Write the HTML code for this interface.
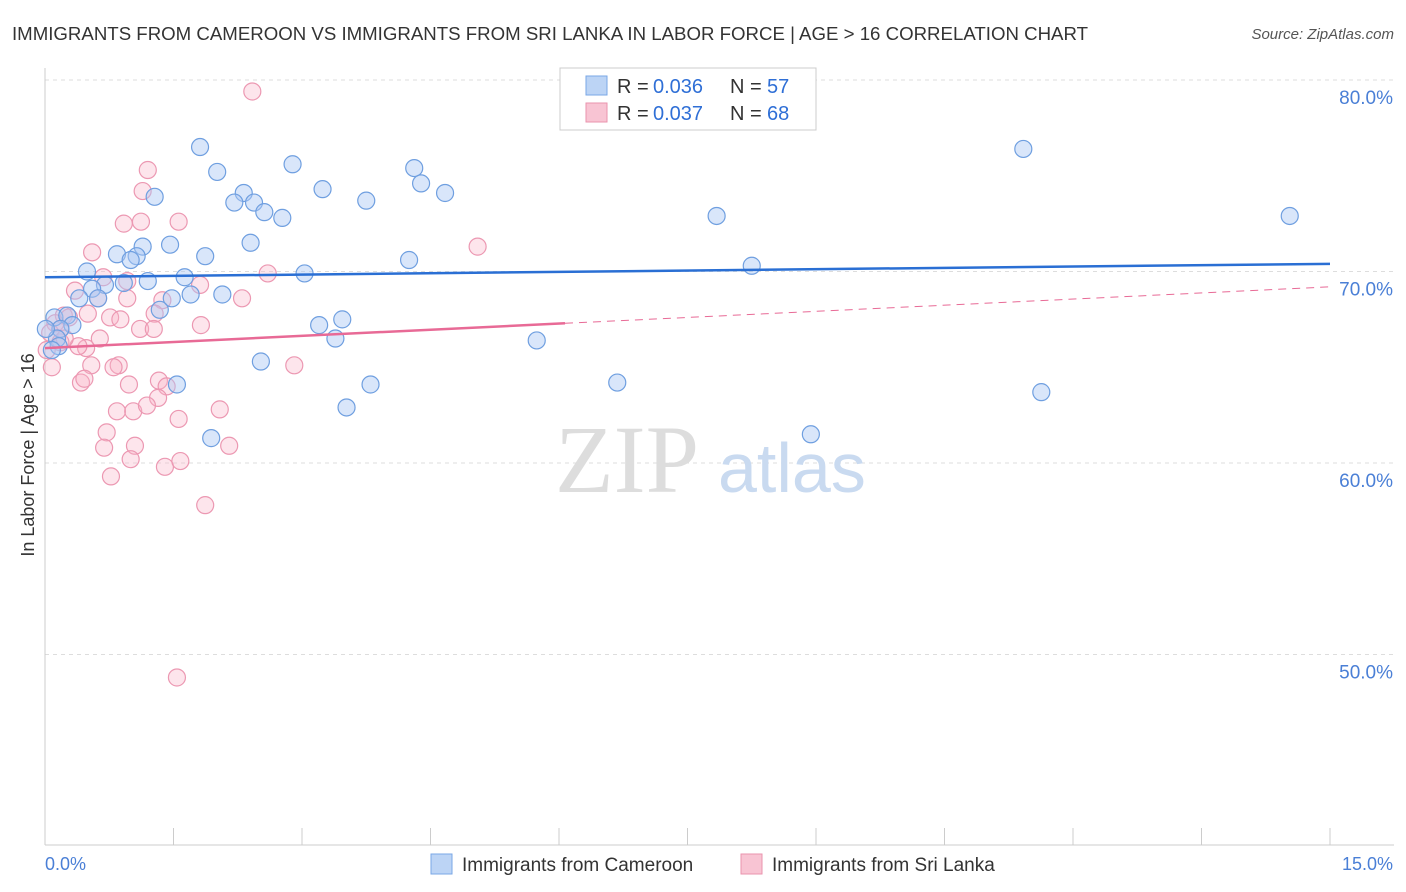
<!DOCTYPE html>
<html><head><meta charset="utf-8"><style>
body{margin:0;background:#fff;font-family:"Liberation Sans",sans-serif;}
svg{display:block}
</style></head><body>
<svg id="chart" width="1406" height="892">
<text x="12" y="40" font-size="18" fill="#333" textLength="1076" lengthAdjust="spacingAndGlyphs">IMMIGRANTS FROM CAMEROON VS IMMIGRANTS FROM SRI LANKA IN LABOR FORCE | AGE &gt; 16 CORRELATION CHART</text>
<text x="1394" y="39" font-size="15" fill="#555" text-anchor="end" font-style="italic">Source: ZipAtlas.com</text>
<g id="grid"></g>
<text x="555" y="492" font-size="96" fill="#ddd" font-family="Liberation Serif,serif">ZIP</text>
<text x="718" y="492" font-size="70" fill="#c9daf0">atlas</text>
<text transform="translate(34,455) rotate(-90)" font-size="18" fill="#333" text-anchor="middle">In Labor Force | Age &gt; 16</text>
<g id="marks"></g>
<g>
<rect x="560" y="68" width="256" height="62" fill="#fff" stroke="#ccc"/>
<rect x="586" y="76" width="21" height="19" fill="#bcd4f5" stroke="#7aa7e6"/>
<rect x="586" y="103" width="21" height="19" fill="#f8c4d3" stroke="#ea93ae"/>
<text x="617" y="93" font-size="20" fill="#333">R = </text><text x="653" y="93" font-size="20" fill="#2f6fd6">0.036</text>
<text x="730" y="93" font-size="20" fill="#333">N = </text><text x="767" y="93" font-size="20" fill="#2f6fd6">57</text>
<text x="617" y="120" font-size="20" fill="#333">R = </text><text x="653" y="120" font-size="20" fill="#2f6fd6">0.037</text>
<text x="730" y="120" font-size="20" fill="#333">N = </text><text x="767" y="120" font-size="20" fill="#2f6fd6">68</text>
</g>
<g>
<rect x="431" y="854" width="21" height="20" fill="#bcd4f5" stroke="#7aa7e6"/>
<text x="462" y="871" font-size="19" fill="#333">Immigrants from Cameroon</text>
<rect x="741" y="854" width="21" height="20" fill="#f8c4d3" stroke="#ea93ae"/>
<text x="772" y="871" font-size="19" fill="#333">Immigrants from Sri Lanka</text>
</g>
</svg>
<script>
const yTicks=[50,60,70,80];
const xTickCount=10;
const blueTrend=[69.7,70.4];
const pinkTrend=[66.0,69.2];
const pinkSolidEnd=6.07;
const blueX=[1.81,2.01,1.28,2.32,2.21,2.44,2.56,2.77,2.89,3.24,3.75,4.31,4.39,4.67,1.46,1.14,0.84,1.07,1.00,1.87,2.40,0.49,1.63,1.20,0.92,0.70,0.55,0.62,0.40,1.48,1.70,2.07,3.03,1.34,0.11,0.26,0.32,0.18,0.14,0.16,3.20,3.47,3.39,2.52,1.54,3.80,3.52,1.94,4.25,5.74,6.68,7.84,8.25,8.94,11.42,11.63,14.53,0.08,0.01];
const blueY=[76.5,75.2,73.9,74.1,73.6,73.6,73.1,72.8,75.6,74.3,73.7,75.4,74.6,74.1,71.4,71.3,70.9,70.8,70.6,70.8,71.5,70.0,69.7,69.5,69.4,69.3,69.1,68.6,68.6,68.6,68.8,68.8,69.9,68.0,67.6,67.7,67.2,67.0,66.5,66.1,67.2,67.5,66.5,65.3,64.1,64.1,62.9,61.3,70.6,66.4,64.2,72.9,70.3,61.5,76.4,63.7,72.9,65.9,67.0];
const pinkX=[2.42,1.20,1.14,1.56,0.92,1.12,0.55,5.05,2.60,0.68,0.96,1.81,0.35,0.62,0.96,1.37,2.30,0.22,0.50,0.76,0.88,1.28,0.28,0.12,0.06,0.18,0.48,0.64,1.11,1.27,1.82,0.39,0.54,0.86,0.80,2.91,0.08,0.42,0.46,0.98,1.33,1.42,1.32,0.84,1.03,1.19,2.04,1.56,0.72,0.69,1.05,1.00,2.15,1.40,1.58,0.77,1.87,1.54,0.18,0.23,0.02];
const pinkY=[79.4,75.3,74.2,72.6,72.5,72.6,71.0,71.3,69.9,69.7,69.5,69.3,69.0,68.6,68.6,68.5,68.6,67.7,67.8,67.6,67.5,67.8,67.6,67.3,66.8,66.3,66.0,66.5,67.0,67.0,67.2,66.1,65.1,65.1,65.0,65.1,65.0,64.2,64.4,64.1,64.3,64.0,63.4,62.7,62.7,63.0,62.8,62.3,61.6,60.8,60.9,60.2,60.9,59.8,60.1,59.3,57.8,48.8,67.0,66.5,65.9];
const X=v=>45+v*(1285/15), Y=v=>80+(80-v)*19.15;
const NS="http://www.w3.org/2000/svg";
const g=document.getElementById('grid'), m=document.getElementById('marks');
function el(t,a,p){const e=document.createElementNS(NS,t);for(const k in a)e.setAttribute(k,a[k]);p.appendChild(e);return e;}
yTicks.forEach(v=>{
 const l=el('line',{x1:45,x2:1394,y1:Y(v),y2:Y(v),stroke:'#ddd','stroke-dasharray':'4,4'},g);
 
 
 const t=el('text',{x:1393,y:Y(v)+24,'font-size':19,fill:'#4a7fd6','text-anchor':'end'},g);t.textContent=v.toFixed(1)+'%';
 
 
});
const ax=el('line',{x1:45,x2:1394,y1:845,y2:845,stroke:'#ccc'},g);


const ay=el('line',{x1:45,x2:45,y1:68,y2:845,stroke:'#ccc'},g);


for(let i=1;i<=xTickCount;i++){const tk=el('line',{x1:X(i*1.5),x2:X(i*1.5),y1:828,y2:845,stroke:'#ccc'},g);
 
 }
[[0,'0.0%','start',45],[15,'15.0%','end',1393]].forEach(a=>{const t=el('text',{x:a[3],y:870,'font-size':18,fill:'#4a7fd6','text-anchor':a[2]},g);t.textContent=a[1];
 
 });
pinkX.forEach((x,i)=>{const c=el('circle',{cx:X(x),cy:Y(pinkY[i]),r:8.5,fill:'rgba(248,180,200,0.35)',stroke:'#ec98b2','stroke-width':1.2},m);
 
 });
blueX.forEach((x,i)=>{const c=el('circle',{cx:X(x),cy:Y(blueY[i]),r:8.5,fill:'rgba(170,200,245,0.45)',stroke:'#6f9fe0','stroke-width':1.2},m);
 
 });
const bl=el('line',{x1:X(0),y1:Y(blueTrend[0]),x2:X(15),y2:Y(blueTrend[1]),stroke:'#2a6fd4','stroke-width':2.5},m);


const pAt=x=>pinkTrend[0]+(pinkTrend[1]-pinkTrend[0])*x/15;
const pl=el('line',{x1:X(0),y1:Y(pAt(0)),x2:X(pinkSolidEnd),y2:Y(pAt(pinkSolidEnd)),stroke:'#e86a96','stroke-width':2.5},m);


const pd=el('line',{x1:X(pinkSolidEnd),y1:Y(pAt(pinkSolidEnd)),x2:X(15),y2:Y(pAt(15)),stroke:'#e86a96','stroke-width':1,'stroke-dasharray':'8,6'},m);


</script>
</body></html>
